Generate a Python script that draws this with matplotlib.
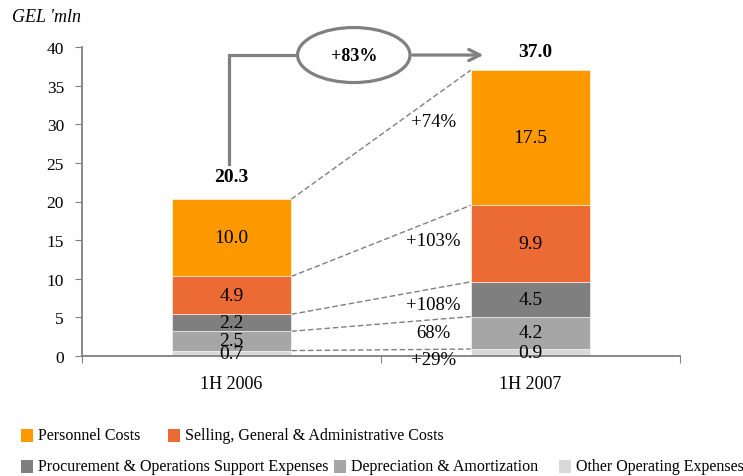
import numpy as np
import matplotlib
matplotlib.use("Agg")
import matplotlib.pyplot as plt
from matplotlib.patches import Ellipse, Rectangle

# ---- data ----
periods = ["1H 2006", "1H 2007"]
categories = ["Other Operating Expenses", "Depreciation & Amortization",
              "Procurement & Operations Support Expenses",
              "Selling, General & Administrative Costs", "Personnel Costs"]
other = [0.7, 0.9]
depreciation = [2.5, 4.2]
procurement = [2.2, 4.5]
sga = [4.9, 9.9]
personnel = [10.0, 17.5]
totals = [20.3, 37.0]
growth_labels = ["+29%", "68%", "+108%", "+103%", "+74%"]
growth_y = [-0.5, 3.1, 6.7, 15.0, 30.3]
total_growth = "+83%"

colors = ["#D9D9D9", "#A6A6A6", "#7F7F7F", "#EC6A33", "#FF9900"]
series = [other, depreciation, procurement, sga, personnel]

plt.rcParams['font.family'] = ['Liberation Serif', 'DejaVu Serif']
grey = "#808080"

fig = plt.figure(figsize=(7.43, 4.77), dpi=100)
ax = fig.add_axes([82 / 743, 1 - 357 / 477, 598 / 743, 309 / 477])

x = np.arange(len(periods))
w = 0.4
bottom = np.zeros(len(periods))
tops = [bottom.copy()]
for vals, col in zip(series, colors):
    vals = np.array(vals)
    ax.bar(x, vals, w, bottom=bottom, color=col, edgecolor="white", linewidth=0.4, zorder=2)
    for xi, b, v in zip(x, bottom, vals):
        ax.text(xi, b + v / 2, f"{v:.1f}", ha="center", va="center", fontsize=14, zorder=4)
    bottom = bottom + vals
    tops.append(bottom.copy())

# dashed connectors between segment tops
for t in tops[1:]:
    ax.plot([x[0] + w / 2, x[1] - w / 2], [t[0], t[1]], color=grey, lw=1.0,
            ls=(0, (4, 2)), zorder=1)

# growth labels
for lab, gy in zip(growth_labels, growth_y):
    ax.text(0.675, gy, lab, ha="center", va="center", fontsize=13.5, clip_on=False)

# totals
ax.text(x[0], 23.2, f"{totals[0]:.1f}", ha="center", va="center", fontsize=14, fontweight="bold")
ax.text(x[1] + 0.015, 39.4, f"{totals[1]:.1f}", ha="center", va="center", fontsize=14,
        fontweight="bold", clip_on=False)

# growth arrow with ellipse
ey = 38.96
ax.plot([-0.01, -0.01, 0.221], [24.85, ey, ey], color=grey, lw=2.3, clip_on=False,
        solid_joinstyle="miter", zorder=3)
ax.annotate("", xy=(0.852, ey), xytext=(0.597, ey),
            arrowprops=dict(arrowstyle="->,head_length=0.8,head_width=0.4", color=grey, lw=2.3),
            annotation_clip=False)
ax.add_patch(Ellipse((0.409, ey), 0.376, 7.12, facecolor="white", edgecolor=grey,
                     lw=2.3, clip_on=False, zorder=3))
ax.text(0.409, ey, total_growth, ha="center", va="center", fontsize=13, fontweight="bold",
        zorder=4, clip_on=False)

# axes styling
ax.set_xlim(-0.5, 1.5)
ax.set_ylim(0, 40)
ax.set_yticks(range(0, 41, 5))
ax.set_xticks([-0.5, 0.5, 1.5])
ax.set_xticklabels([])
ax.set_xticks(x, minor=True)
ax.set_xticklabels(periods, minor=True)
ax.tick_params(axis="x", which="minor", length=0, pad=14, labelsize=13)
ax.tick_params(axis="x", which="major", length=5, color=grey, direction="out")
ax.tick_params(axis="y", length=5, color=grey, pad=8, labelsize=12.5)
for s in ["top", "right"]:
    ax.spines[s].set_visible(False)
for s in ["left", "bottom"]:
    ax.spines[s].set_color(grey)
    ax.spines[s].set_linewidth(1.3)

fig.text(12 / 743, 1 - 17 / 477, "GEL 'mln", fontsize=13, style="italic", va="center")

# legend drawn manually
legend_items = [
    (categories[4], colors[4], 21, 436),
    (categories[3], colors[3], 168, 436),
    (categories[2], colors[2], 21, 467),
    (categories[1], colors[1], 334, 467),
    (categories[0], colors[0], 559, 467),
]
for name, col, px, py in legend_items:
    fig.add_artist(Rectangle((px / 743, 1 - (py + 6.5) / 477), 12 / 743, 13 / 477,
                             transform=fig.transFigure, facecolor=col, edgecolor="none"))
    fig.text((px + 17) / 743, 1 - py / 477, name, fontsize=11.5, va="center")

fig.savefig("out.png", dpi=100)
